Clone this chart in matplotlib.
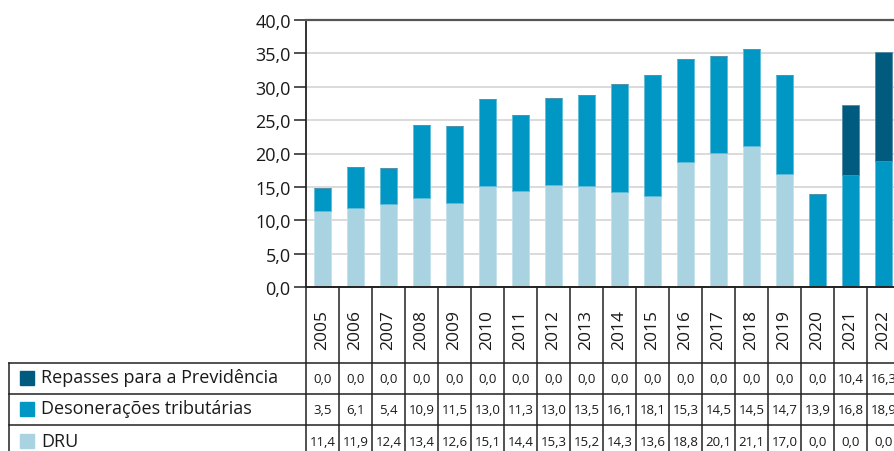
import numpy as np
import matplotlib.pyplot as plt

plt.rcParams['font.family'] = ['Open Sans', 'DejaVu Sans']

# -----------------------------------
# DATA
# -----------------------------------
years = ["2005", "2006", "2007", "2008", "2009", "2010", "2011", "2012", "2013",
         "2014", "2015", "2016", "2017", "2018", "2019", "2020", "2021", "2022"]
dru = [11.4, 11.9, 12.4, 13.4, 12.6, 15.1, 14.4, 15.3, 15.2,
       14.3, 13.6, 18.8, 20.1, 21.1, 17.0, 0.0, 0.0, 0.0]
desoneracoes = [3.5, 6.1, 5.4, 10.9, 11.5, 13.0, 11.3, 13.0, 13.5,
                16.1, 18.1, 15.3, 14.5, 14.5, 14.7, 13.9, 16.8, 18.9]
repasses = [0.0, 0.0, 0.0, 0.0, 0.0, 0.0, 0.0, 0.0, 0.0,
            0.0, 0.0, 0.0, 0.0, 0.0, 0.0, 0.0, 10.4, 16.3]
series_names = ["Repasses para a Previdência", "Desonerações tributárias", "DRU"]

c_dru = "#a9d3e1"
c_des = "#0097c4"
c_rep = "#005b7f"
txt = "#1a1a1a"

W, H = 894, 452
fig = plt.figure(figsize=(W / 100, H / 100), dpi=100)

# pixel helpers
x0_px, col_px = 306, 33
n = len(years)
x1_px = x0_px + n * col_px
top_px, bot_px = 21, 288


def fx(px):
    return px / W


def fy(px):
    return 1 - px / H


# -----------------------------------
# BAR CHART
# -----------------------------------
ax = fig.add_axes([fx(x0_px), fy(bot_px), (x1_px - x0_px) / W, (bot_px - top_px) / H])
x = np.arange(n)
bw = 0.53
dru_a = np.array(dru)
des_a = np.array(desoneracoes)
rep_a = np.array(repasses)
ax.bar(x, dru_a, bw, color=c_dru, edgecolor="#c4e2ec", linewidth=0.6, zorder=3)
ax.bar(x, des_a, bw, bottom=dru_a, color=c_des, edgecolor="#5fbcd9", linewidth=0.6, zorder=3)
ax.bar(x, rep_a, bw, bottom=dru_a + des_a, color=c_rep, edgecolor="#4f8aa3", linewidth=0.6, zorder=3)

ax.set_xlim(-0.5, n - 0.5)
ax.set_ylim(0, 40)
ax.set_yticks(np.arange(0, 41, 5))
ax.set_yticklabels([f"{v:.1f}".replace(".", ",") for v in np.arange(0, 41, 5)], fontsize=13, color=txt)
ax.tick_params(axis="y", length=9, width=1.2, color="#333333", pad=2)
ax.set_xticks([])
ax.yaxis.grid(True, color="#d4d4d4", linewidth=1.2, zorder=0)
for s in ["right", "bottom"]:
    ax.spines[s].set_visible(False)
ax.spines["left"].set_color("#222222")
ax.spines["left"].set_linewidth(1.3)
ax.spines["top"].set_color("#555555")
ax.spines["top"].set_linewidth(1.6)

# -----------------------------------
# TABLE BELOW
# -----------------------------------
tab = fig.add_axes([fx(x0_px), 0, (x1_px - x0_px) / W, fy(bot_px)])
tab.set_xlim(-0.5, n - 0.5)
tab.set_ylim(H, bot_px)
tab.axis("off")

lab_left = -0.5 - (x0_px - 9) / col_px
row_lines = [364, 395, 426, 460]
lc = "#222222"
lw = 1.1

# axis bottom line
tab.plot([-0.5, n - 0.5], [bot_px, bot_px], color=lc, lw=1.4, clip_on=False)
# horizontal lines
for yl in row_lines[:3]:
    tab.plot([lab_left, n - 0.5], [yl, yl], color=lc, lw=lw, clip_on=False)
# vertical lines for year columns
for i in range(n + 1):
    tab.plot([i - 0.5, i - 0.5], [bot_px, row_lines[-1]], color=lc, lw=lw, clip_on=False)
tab.plot([lab_left, lab_left], [row_lines[0], row_lines[-1]], color=lc, lw=lw, clip_on=False)

# year labels
for i, yr in enumerate(years):
    tab.text(i, 330, yr, rotation=90, ha="center", va="center", fontsize=12.5, color=txt)

# rows
rows = [repasses, desoneracoes, dru]
colors = [c_rep, c_des, c_dru]
for r, (name, vals, col) in enumerate(zip(series_names, rows, colors)):
    yc = (row_lines[r] + row_lines[r + 1]) / 2
    sw = 14 / col_px
    tab.add_patch(plt.Rectangle((lab_left + 11 / col_px, yc - 7 - 1), sw, 14, color=col, clip_on=False))
    tab.text(lab_left + 32 / col_px, yc - 1, name, ha="left", va="center", fontsize=13, color=txt)
    for i, v in enumerate(vals):
        tab.text(i, yc, f"{v:.1f}".replace(".", ","), ha="center", va="center", fontsize=9.5, color=txt)

fig.savefig("out.png", dpi=100)
